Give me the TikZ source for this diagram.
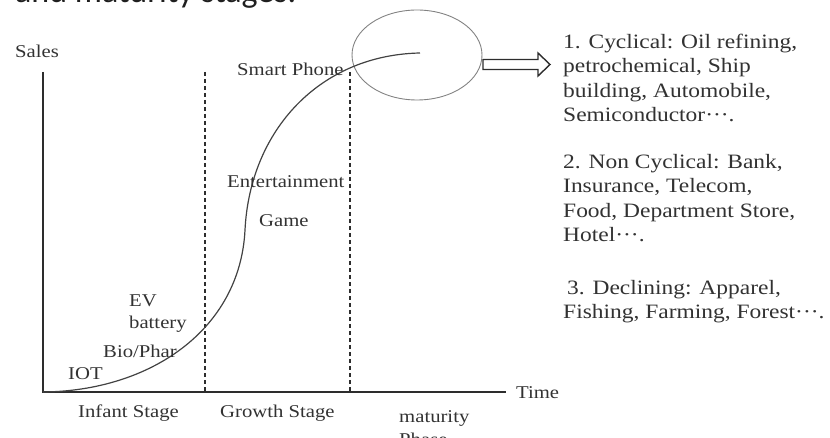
\documentclass[tikz,border=0pt]{standalone}
\usepackage{fontspec}
\setmainfont[FakeStretch=1.15]{Liberation Serif}
\newfontfamily\headfont{Carlito}
\usetikzlibrary{shapes.geometric}
\definecolor{txt}{RGB}{50,50,50}
\definecolor{ln}{RGB}{45,45,45}
\definecolor{ell}{RGB}{130,130,130}
\begin{document}
\begin{tikzpicture}[x=1pt,y=-1pt,
  lbl/.style={anchor=base west, inner sep=0pt, text=txt, font=\fontsize{18}{20}\selectfont},
  rt/.style={anchor=base west, inner sep=0pt, text=txt, font=\fontsize{20.4}{24}\selectfont},
  axisline/.style={draw=ln, line width=1.8pt},
  dashline/.style={draw=ln, line width=1.3pt, dash pattern=on 4pt off 3pt},
  curveline/.style={draw=ln!90, line width=1.2pt},
  arrowline/.style={draw=ln, line width=1.4pt, line join=miter}]
\clip (0,0) rectangle (830,438);
\useasboundingbox (0,0) rectangle (830,438);
% title fragment
\node[anchor=base west, inner sep=0pt, text=black!88, font=\headfont\fontsize{34}{36}\selectfont] (title) at (15,2.5) {and maturity stages.};
% axes
\coordinate (o) at (43,392);
\coordinate (ytop) at (43,72);
\coordinate (xend) at (506,392);
\draw[axisline] (ytop) -- (o) -- (xend);
% dashed
\coordinate (d1t) at (205,72); \coordinate (d1b) at (205,392);
\coordinate (d2t) at (350,72); \coordinate (d2b) at (350,392);
\draw[dashline] (d1t) -- (d1b);
\draw[dashline] (d2t) -- (d2b);
% ellipse
\node[draw=ell, line width=0.9pt, ellipse, minimum width=130pt, minimum height=90pt, inner sep=0pt] (circ) at (417,55) {};
% curve
\coordinate (cend) at (420,53);
\draw[curveline] (o) .. controls (150,391) and (240,330) .. (245,230) .. controls (250,130) and (320,55) .. (cend);
% arrow
\draw[arrowline] (483,59.5) -- (538,59.5) -- (538,53) -- (550,64.5) -- (538,76) -- (538,69.5) -- (483,69.5) -- cycle;
% left labels
\node[lbl] (sales) at (15,58) {Sales};
\node[lbl] (time) at (516,398) {Time};
\node[lbl] (smart) at (237,76) {Smart Phone};
\node[lbl] (ent) at (227,188) {Entertainment};
\node[lbl] (game) at (259,227) {Game};
\node[lbl] (ev) at (129,307) {EV};
\node[lbl] (batt) at (129,329) {battery};
\node[lbl] (bio) at (103,357) {Bio/Phar};
\node[lbl] (iot) at (68,379) {IOT};
\node[lbl] (inf) at (78,417) {Infant Stage};
\node[lbl] (gro) at (220,417) {Growth Stage};
\node[lbl] (mat) at (399,422) {maturity};
\node[lbl] (pha) at (399,445) {Phase};
% right text
\node[rt] (r1) at (563,48.5) {1. Cyclical: Oil refining,};
\node[rt] (r2) at (563,72.8) {petrochemical, Ship};
\node[rt] (r3) at (563,97.1) {building, Automobile,};
\node[rt] (r4) at (563,121.4) {Semiconductor···.};
\node[rt] (r5) at (563,168.5) {2. Non Cyclical: Bank,};
\node[rt] (r6) at (563,192.8) {Insurance, Telecom,};
\node[rt] (r7) at (563,217.1) {Food, Department Store,};
\node[rt] (r8) at (563,241.4) {Hotel···.};
\node[rt] (r9) at (567,294.5) {3. Declining: Apparel,};
\node[rt] (r10) at (563,318.8) {Fishing, Farming, Forest···.};
\end{tikzpicture}
\end{document}
